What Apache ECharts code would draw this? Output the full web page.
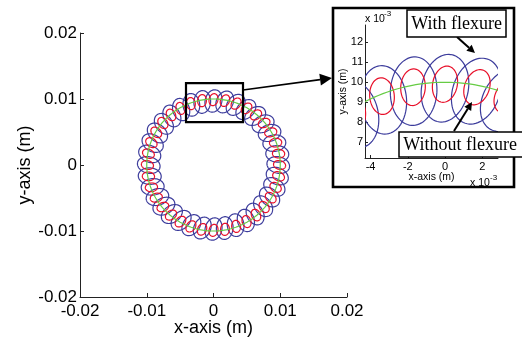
<!DOCTYPE html>
<html>
<head>
<meta charset="utf-8">
<script src="https://cdn.jsdelivr.net/npm/echarts@6/dist/echarts.min.js"></script>
<style>
html,body{margin:0;padding:0;background:#fff;}
#chart{width:522px;height:339px;}
</style>
</head>
<body>
<div id="chart"></div>
<script>
// ---- data (metres) ----
const loopAnglesDeg = [0,10,20,30,40,50,60,70,80,90,100,110,120,130,140,150,160,170,180,190,200,210,220,230,240,250,260,270,280,290,300,310,320,330,340,350];
const nominalRadius = 0.01;
const withFlexureCentreR = 0.0097;
const withFlexureRadialSemi = 0.00172;
const withFlexureTangentialSemi = 0.00125;
const withoutFlexureCentreR = 0.0099;
const withoutFlexureRadialSemi = 0.00092;
const withoutFlexureTangentialSemi = 0.00066;
const loopTiltDeg = 14;
const mainTicks = [-0.02, -0.01, 0, 0.01, 0.02];
const insetXTicks = [-0.004, -0.002, 0, 0.002];
const insetYTicks = [0.007, 0.008, 0.009, 0.010, 0.011, 0.012];
const insetXRange = [-0.0043, 0.00285];
const insetYRange = [0.0062, 0.01287];
const zoomBox = [-0.00412, 0.0124, 0.00442, 0.0065];

const BLUE = '#3c3c9c', RED = '#e8102a', GREEN = '#66cc44';
const FONT = 'Liberation Sans';

function loopRenderer(centreR, radialSemi, tanSemi, color, lw) {
  return function (params, api) {
    const th = api.value(0) * Math.PI / 180;
    const cx = centreR * Math.cos(th), cy = centreR * Math.sin(th);
    const ang = th - loopTiltDeg * Math.PI / 180;
    const dx = Math.cos(ang), dy = Math.sin(ang);
    const pts = [];
    for (let i = 0; i <= 72; i++) {
      const p = i / 72 * 2 * Math.PI;
      const u = radialSemi * Math.cos(p), v = tanSemi * Math.sin(p);
      pts.push(api.coord([cx + u * dx - v * dy, cy + u * dy + v * dx]));
    }
    return { type: 'polyline', shape: { points: pts }, style: { fill: null, stroke: color, lineWidth: lw } };
  };
}
function circleRenderer(color, lw) {
  return function (params, api) {
    const r = api.value(0);
    const pts = [];
    for (let i = 0; i <= 240; i++) {
      const p = i / 240 * 2 * Math.PI;
      pts.push(api.coord([r * Math.cos(p), r * Math.sin(p)]));
    }
    return { type: 'polyline', shape: { points: pts }, style: { fill: null, stroke: color, lineWidth: lw } };
  };
}

const loopData = loopAnglesDeg.map(a => [a]);

function axisCommon(size) {
  return {
    nameMoveOverlap: false,
    axisLine: { show: true, onZero: false, lineStyle: { color: '#222', width: 1 } },
    axisTick: { show: true, inside: true, length: size > 12 ? 4 : 3, lineStyle: { color: '#222' } },
    splitLine: { show: false },
    axisLabel: { color: '#000', fontSize: size, fontFamily: FONT },
    nameTextStyle: { color: '#000', fontFamily: FONT }
  };
}

const chart = echarts.init(document.getElementById('chart'), null, { renderer: 'canvas' });

const series = [];
[0, 1].forEach(gi => {
  const lw = 1.2;
  series.push({
    type: 'custom', xAxisIndex: gi, yAxisIndex: gi, clip: true, z: 2, silent: true,
    renderItem: loopRenderer(withFlexureCentreR, withFlexureRadialSemi, withFlexureTangentialSemi, BLUE, lw),
    data: loopData
  });
  series.push({
    type: 'custom', xAxisIndex: gi, yAxisIndex: gi, clip: true, z: 3, silent: true,
    renderItem: loopRenderer(withoutFlexureCentreR, withoutFlexureRadialSemi, withoutFlexureTangentialSemi, RED, lw),
    data: loopData
  });
  series.push({
    type: 'custom', xAxisIndex: gi, yAxisIndex: gi, clip: true, z: 4, silent: true,
    renderItem: circleRenderer(GREEN, lw),
    data: [[nominalRadius]]
  });
});
// zoom rectangle on main plot
series.push({
  type: 'custom', xAxisIndex: 0, yAxisIndex: 0, z: 6, silent: true,
  renderItem: function (params, api) {
    const p1 = api.coord([api.value(0), api.value(1)]);
    const p2 = api.coord([api.value(2), api.value(3)]);
    return { type: 'rect', shape: { x: p1[0], y: p1[1], width: p2[0] - p1[0], height: p2[1] - p1[1] },
      style: { fill: null, stroke: '#000', lineWidth: 2.2 } };
  },
  data: [zoomBox]
});

const mainX = Object.assign(axisCommon(17), {
  gridIndex: 0, type: 'value', min: mainTicks[0], max: mainTicks[mainTicks.length - 1], interval: 0.01,
  name: 'x-axis (m)', nameLocation: 'middle', nameGap: 22
});
mainX.axisLabel.margin = 6;
mainX.nameTextStyle.fontSize = 18;
const mainY = Object.assign(axisCommon(17), {
  gridIndex: 0, type: 'value', min: mainTicks[0], max: mainTicks[mainTicks.length - 1], interval: 0.01,
  name: 'y-axis (m)', nameLocation: 'middle', nameGap: 46
});
mainY.axisLabel.margin = 3;
mainY.nameTextStyle.fontSize = 18;

const insetX = Object.assign(axisCommon(11), {
  gridIndex: 1, type: 'value', min: insetXRange[0], max: insetXRange[1],
  name: 'x-axis (m)', nameLocation: 'middle', nameGap: 14
});
insetX.axisLabel.customValues = insetXTicks;
insetX.axisTick.customValues = insetXTicks;
insetX.axisLabel.formatter = v => String(Math.round(v * 1000));
insetX.axisLabel.margin = 3;
insetX.nameTextStyle.fontSize = 10.5;
const insetY = Object.assign(axisCommon(11), {
  gridIndex: 1, type: 'value', min: insetYRange[0], max: insetYRange[1],
  name: 'y-axis (m)', nameLocation: 'middle', nameGap: 16.5
});
insetY.axisLabel.customValues = insetYTicks;
insetY.axisTick.customValues = insetYTicks;
insetY.axisLabel.formatter = v => String(Math.round(v * 1000));
insetY.axisLabel.margin = 2;
insetY.nameTextStyle.fontSize = 10.5;

function arrow(x1, y1, x2, y2, headLen, headHalf, lw, z) {
  const dx = x2 - x1, dy = y2 - y1, L = Math.hypot(dx, dy);
  const ux = dx / L, uy = dy / L;
  const bx = x2 - ux * headLen, by = y2 - uy * headLen;
  return [
    { type: 'line', z: z, shape: { x1: x1, y1: y1, x2: bx, y2: by }, style: { stroke: '#000', lineWidth: lw } },
    { type: 'polygon', z: z, shape: { points: [[x2, y2], [bx - uy * headHalf, by + ux * headHalf], [bx + uy * headHalf, by - ux * headHalf]] },
      style: { fill: '#000' } }
  ];
}

const graphics = [
  { type: 'rect', z: 1, shape: { x: 333, y: 8, width: 181, height: 179 }, style: { fill: null, stroke: '#000', lineWidth: 2.6 } },
  ...arrow(243, 90, 332, 78, 12, 6, 1.6, 10),
  ...arrow(457, 37, 475, 53, 8, 4, 2, 10),
  ...arrow(454, 131, 472, 102, 8, 4, 2, 10),
  { type: 'rect', z: 20, shape: { x: 407, y: 10, width: 99, height: 27 }, style: { fill: '#fff', stroke: '#000', lineWidth: 1.5 } },
  { type: 'text', z: 21, x: 456.5, y: 24, style: { text: 'With flexure', fontFamily: 'Liberation Serif', fontSize: 18, fill: '#000', align: 'center', verticalAlign: 'middle' } },
  { type: 'rect', z: 20, shape: { x: 399, y: 132, width: 127, height: 25 }, style: { fill: '#fff', stroke: '#000', lineWidth: 1.5 } },
  { type: 'text', z: 21, x: 460, y: 145, style: { text: 'Without flexure', fontFamily: 'Liberation Serif', fontSize: 18, fill: '#000', align: 'center', verticalAlign: 'middle' } },
  { type: 'text', z: 21, x: 365, y: 19, style: { text: 'x 10', fontFamily: FONT, fontSize: 10.5, fill: '#000', align: 'left', verticalAlign: 'middle' } },
  { type: 'text', z: 21, x: 384, y: 14, style: { text: '-3', fontFamily: FONT, fontSize: 8, fill: '#000', align: 'left', verticalAlign: 'middle' } },
  { type: 'text', z: 21, x: 470, y: 183, style: { text: 'x 10', fontFamily: FONT, fontSize: 10.5, fill: '#000', align: 'left', verticalAlign: 'middle' } },
  { type: 'text', z: 21, x: 490, y: 178, style: { text: '-3', fontFamily: FONT, fontSize: 8, fill: '#000', align: 'left', verticalAlign: 'middle' } }
];

chart.setOption({
  animation: false,
  backgroundColor: '#fff',
  grid: [
    { left: 80, top: 33, width: 267, height: 264, containLabel: false, outerBoundsMode: 'none' },
    { left: 365, top: 25, width: 133, height: 133, containLabel: false, outerBoundsMode: 'none' }
  ],
  xAxis: [mainX, insetX],
  yAxis: [mainY, insetY],
  series: series,
  graphic: graphics
});
</script>
</body>
</html>
